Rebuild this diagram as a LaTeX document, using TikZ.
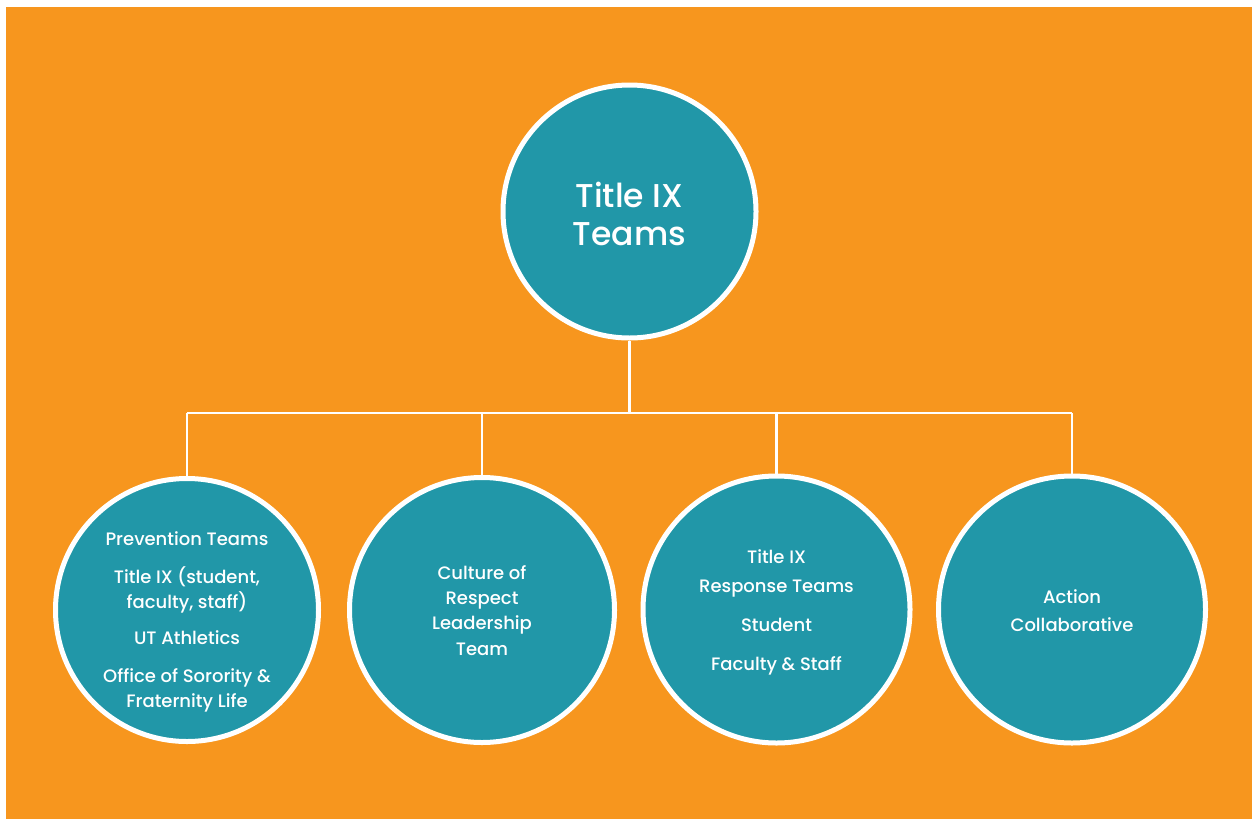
\documentclass[tikz,border=0pt]{standalone}
\usepackage{fontspec}
\setmainfont{Poppins}[UprightFont={* Medium}]
\definecolor{bgorange}{HTML}{F7961E}
\definecolor{teal}{HTML}{2197A8}
\begin{document}
\begin{tikzpicture}[x=1pt,y=-1pt,
  circ/.style={circle,draw=white,line width=5pt,fill=teal,inner sep=0pt},
  txt/.style={text=white,font=\fontsize{18}{20}\selectfont,inner sep=0pt,anchor=base,yshift=-6pt},
  big/.style={text=white,font=\fontsize{33}{35}\selectfont,inner sep=0pt,anchor=base,yshift=-11.5pt},
  wire/.style={draw=white,line width=2.5pt}]
\useasboundingbox (0,0) rectangle (1252,819);
\fill[white] (0,0) rectangle (1252,819);
\fill[bgorange] (6,7) rectangle (1252,819);
\node[circ,minimum size=253pt] (top) at (629.5,211.5) {};
\node[circ,minimum size=263pt] (c1) at (187,610) {};
\node[circ,minimum size=265pt] (c2) at (482,610) {};
\node[circ,minimum size=267pt] (c3) at (776.5,609.5) {};
\node[circ,minimum size=267pt] (c4) at (1072,609.5) {};
\coordinate (hub) at (629.5,413);
\coordinate (h1) at (187,413);
\coordinate (h2) at (482,413);
\coordinate (h3) at (776.5,413);
\coordinate (h4) at (1072,413);
\draw[wire] (top.south) -- (hub);
\draw[wire] (h1) -- (h4);
\draw[wire] (h1) -- (c1.north);
\draw[wire] (h2) -- (c2.north);
\draw[wire] (h3) -- (c3.north);
\draw[wire] (h4) -- (c4.north);
\node[big] (t1) at (629.5,196) {Title IX};
\node[big] (t2) at (629.5,234) {Teams};
\node[txt] (a1) at (187,539) {Prevention Teams};
\node[txt] (a2) at (187,577) {Title IX (student,};
\node[txt] (a3) at (187,602) {faculty, staff)};
\node[txt] (a4) at (187,638) {UT Athletics};
\node[txt] (a5) at (187,676) {Office of Sorority \&};
\node[txt] (a6) at (187,701) {Fraternity Life};
\node[txt] (b1) at (482,573) {Culture of};
\node[txt] (b2) at (482,598) {Respect};
\node[txt] (b3) at (482,623) {Leadership};
\node[txt] (b4) at (482,649) {Team};
\node[txt] (d1) at (776.5,557) {Title IX};
\node[txt] (d2) at (776.5,586) {Response Teams};
\node[txt] (d3) at (776.5,625) {Student};
\node[txt] (d4) at (776.5,664) {Faculty \& Staff};
\node[txt] (e1) at (1072,597) {Action};
\node[txt] (e2) at (1072,625) {Collaborative};
\end{tikzpicture}
\end{document}
